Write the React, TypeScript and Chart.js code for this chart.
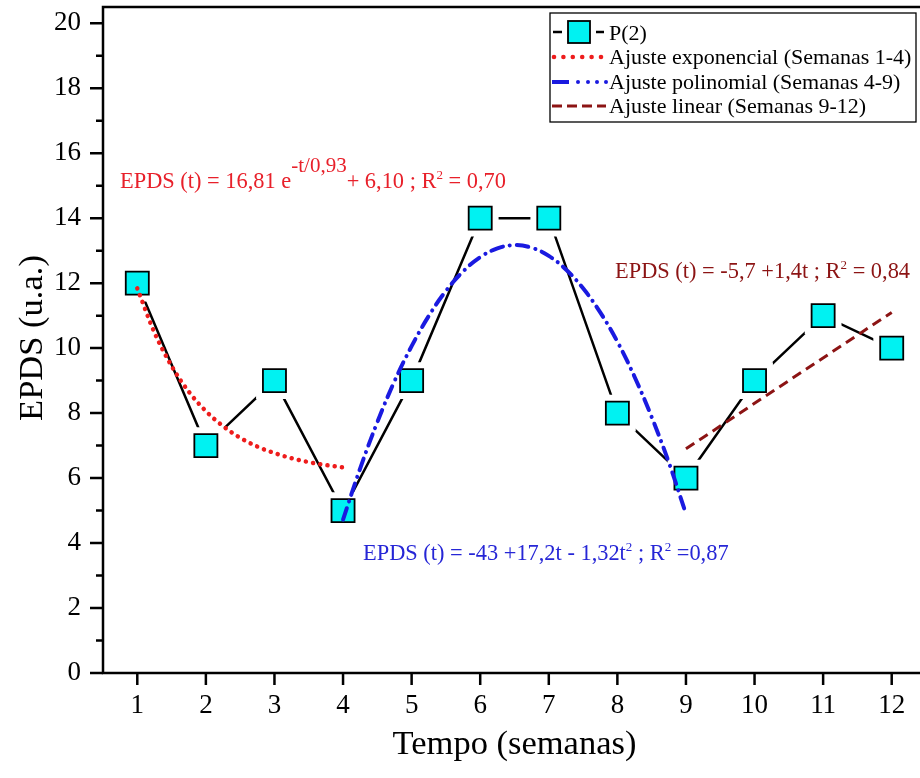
import React, { useEffect, useRef } from "react";
import { Chart, registerables } from "chart.js";

Chart.register(...registerables);

// ---------- data ----------
const weeks = [1, 2, 3, 4, 5, 6, 7, 8, 9, 10, 11, 12];
const p2Values = [12, 7, 9, 5, 9, 14, 14, 8, 6, 9, 11, 10];

// exponential fit (weeks 1-4)
const expT = [1, 1.25, 1.5, 1.75, 2, 2.25, 2.5, 2.75, 3, 3.25, 3.5, 3.75, 4];
const expValues = [11.84, 10.48, 9.45, 8.66, 8.06, 7.6, 7.24, 6.97, 6.77, 6.61, 6.49, 6.4, 6.33];

// polynomial fit (weeks 4-9)
const polyT = [4, 4.25, 4.5, 4.75, 5, 5.25, 5.5, 5.75, 6, 6.25, 6.5, 6.75, 7, 7.25, 7.5, 7.75, 8, 8.25, 8.5, 8.75, 9];
const polyValues = [4.72, 6.3, 7.72, 8.98, 10.06, 10.99, 11.76, 12.36, 12.8, 13.07, 13.17, 13.09, 12.84, 12.42, 11.84, 11.1, 10.2, 9.12, 7.88, 6.48, 4.9];

// linear fit (weeks 9-12)
const linT = [9, 12];
const linValues = [6.9, 11.1];

const yTickValues = [0, 2, 4, 6, 8, 10, 12, 14, 16, 18, 20];
const yMinorValues = [1, 3, 5, 7, 9, 11, 13, 15, 17, 19];

const xTitle = "Tempo (semanas)";
const yTitle = "EPDS (u.a.)";
const legendLabels = [
  "P(2)",
  "Ajuste exponencial (Semanas 1-4)",
  "Ajuste polinomial (Semanas 4-9)",
  "Ajuste linear (Semanas 9-12)",
];

type Part = { text: string; sup?: boolean; small?: boolean };
const eqExp: Part[] = [
  { text: "EPDS (t) = 16,81 e" },
  { text: "-t/0,93", sup: true },
  { text: "+ 6,10 ; R" },
  { text: "2", small: true },
  { text: " = 0,70" },
];
const eqPoly: Part[] = [
  { text: "EPDS (t) = -43 +17,2t - 1,32t" },
  { text: "2", small: true },
  { text: " ; R" },
  { text: "2", small: true },
  { text: " =0,87" },
];
const eqLin: Part[] = [
  { text: "EPDS (t) = -5,7 +1,4t ; R" },
  { text: "2", small: true },
  { text: " = 0,84" },
];

const FONT = '"Liberation Serif", "Times New Roman", Times, serif';
const RED = "#ee1c1c";
const BLUE = "#1a1ae0";
const DARKRED = "#8c1414";
const CYAN = "#00f2f2";

function toXY(xs: number[], ys: number[]) {
  return xs.map((x, i) => ({ x, y: ys[i] }));
}

function drawRich(ctx: CanvasRenderingContext2D, x: number, y: number, parts: Part[], color: string) {
  ctx.fillStyle = color;
  ctx.textAlign = "left";
  ctx.textBaseline = "alphabetic";
  let cx = x;
  for (const p of parts) {
    let size = 22.4;
    let rise = 0;
    if (p.sup) {
      size = 21;
      rise = 16;
    } else if (p.small) {
      size = 13;
      rise = 9;
    }
    ctx.font = `${size}px ${FONT}`;
    ctx.fillText(p.text, cx, y - rise);
    cx += ctx.measureText(p.text).width;
  }
}

const overlayPlugin = {
  id: "overlay",
  afterDraw(chart: any) {
    const ctx: CanvasRenderingContext2D = chart.ctx;
    const { left, top, right, bottom } = chart.chartArea;
    const xs = chart.scales.x;
    const ys = chart.scales.y;
    ctx.save();

    // frame
    ctx.strokeStyle = "#000";
    ctx.lineWidth = 2.5;
    ctx.strokeRect(left, top, right - left, bottom - top);

    // tick marks
    ctx.beginPath();
    yTickValues.forEach((v) => {
      const p = ys.getPixelForValue(v);
      ctx.moveTo(left - 13, p);
      ctx.lineTo(left, p);
    });
    yMinorValues.forEach((v) => {
      const p = ys.getPixelForValue(v);
      ctx.moveTo(left - 7, p);
      ctx.lineTo(left, p);
    });
    weeks.forEach((v) => {
      const p = xs.getPixelForValue(v);
      ctx.moveTo(p, bottom);
      ctx.lineTo(p, bottom + 12);
    });
    ctx.stroke();

    // axis titles
    ctx.fillStyle = "#000";
    ctx.font = `34.5px ${FONT}`;
    ctx.textAlign = "center";
    ctx.textBaseline = "alphabetic";
    ctx.fillText(xTitle, (left + right) / 2, 754);
    ctx.save();
    ctx.translate(42, 338);
    ctx.rotate(-Math.PI / 2);
    ctx.fillText(yTitle, 0, 0);
    ctx.restore();

    // legend box
    const bx = 550, by = 13, bw = 366, bh = 109;
    ctx.fillStyle = "#fff";
    ctx.fillRect(bx, by, bw, bh);
    ctx.lineWidth = 1.3;
    ctx.strokeStyle = "#000";
    ctx.strokeRect(bx, by, bw, bh);

    const baselines = [40, 64, 89, 113];
    const textX = 609;
    ctx.font = `22px ${FONT}`;
    ctx.textAlign = "left";
    ctx.textBaseline = "alphabetic";
    ctx.fillStyle = "#000";
    legendLabels.forEach((lab, i) => ctx.fillText(lab, textX, baselines[i]));

    // row 0: line + square
    let cy = baselines[0] - 8;
    ctx.strokeStyle = "#000";
    ctx.lineWidth = 2.5;
    ctx.beginPath();
    ctx.moveTo(553, cy);
    ctx.lineTo(562, cy);
    ctx.moveTo(596, cy);
    ctx.lineTo(604, cy);
    ctx.stroke();
    ctx.fillStyle = CYAN;
    ctx.fillRect(568, cy - 11, 22, 22);
    ctx.lineWidth = 1.8;
    ctx.strokeRect(568, cy - 11, 22, 22);

    // row 1: red dots
    cy = baselines[1] - 7;
    ctx.fillStyle = RED;
    for (let x = 554; x <= 602; x += 9.4) {
      ctx.beginPath();
      ctx.arc(x, cy, 2.3, 0, Math.PI * 2);
      ctx.fill();
    }

    // row 2: blue dash + dots
    cy = baselines[2] - 7;
    ctx.strokeStyle = BLUE;
    ctx.lineWidth = 4;
    ctx.beginPath();
    ctx.moveTo(552, cy);
    ctx.lineTo(569, cy);
    ctx.stroke();
    ctx.fillStyle = BLUE;
    [578, 588, 597, 606].forEach((x) => {
      ctx.beginPath();
      ctx.arc(x, cy, 2, 0, Math.PI * 2);
      ctx.fill();
    });

    // row 3: dark red dashes
    cy = baselines[3] - 7;
    ctx.strokeStyle = DARKRED;
    ctx.lineWidth = 3;
    ctx.setLineDash([10, 5]);
    ctx.beginPath();
    ctx.moveTo(552, cy);
    ctx.lineTo(606, cy);
    ctx.stroke();
    ctx.setLineDash([]);

    // equations
    drawRich(ctx, 120, 188, eqExp, "#e8202a");
    drawRich(ctx, 363, 560, eqPoly, "#2626d6");
    drawRich(ctx, 615, 278, eqLin, DARKRED);

    ctx.restore();
  },
};

export default function App() {
  const ref = useRef<HTMLCanvasElement>(null);

  useEffect(() => {
    const canvas = ref.current;
    if (!canvas) return;
    const p2 = toXY(weeks, p2Values);
    const chart = new Chart(canvas, {
      type: "line",
      data: {
        datasets: [
          {
            label: "P(2) line",
            data: p2,
            borderColor: "#000",
            borderWidth: 2.5,
            pointRadius: 0,
            tension: 0,
            order: 5,
          },
          {
            label: "halo",
            data: p2,
            showLine: false,
            pointStyle: "rect",
            pointRadius: 26,
            pointBackgroundColor: "#fff",
            pointBorderColor: "#fff",
            pointBorderWidth: 0,
            order: 4,
          },
          {
            label: legendLabels[0],
            data: p2,
            showLine: false,
            pointStyle: "rect",
            pointRadius: 16.3,
            pointBackgroundColor: CYAN,
            pointBorderColor: "#000",
            pointBorderWidth: 1.8,
            order: 3,
          },
          {
            label: legendLabels[1],
            data: toXY(expT, expValues),
            borderColor: RED,
            borderWidth: 4.5,
            borderDash: [0.1, 7.2],
            borderCapStyle: "round",
            pointRadius: 0,
            cubicInterpolationMode: "monotone",
            order: 2,
          },
          {
            label: legendLabels[2],
            data: toXY(polyT, polyValues),
            borderColor: BLUE,
            borderWidth: 4,
            borderDash: [12, 7, 0.1, 7],
            borderCapStyle: "round",
            pointRadius: 0,
            tension: 0.4,
            order: 1,
          },
          {
            label: legendLabels[3],
            data: toXY(linT, linValues),
            borderColor: DARKRED,
            borderWidth: 3,
            borderDash: [10, 6],
            pointRadius: 0,
            order: 0,
          },
        ] as any,
      },
      options: {
        animation: false,
        responsive: false,
        devicePixelRatio: 1,
        events: [],
        layout: { autoPadding: false, padding: { top: 7, right: 4, left: 0, bottom: 0 } },
        plugins: {
          legend: { display: false },
          tooltip: { enabled: false },
        },
        scales: {
          x: {
            type: "linear",
            min: 0.5,
            max: 12.5,
            grid: { display: false, drawTicks: false },
            border: { display: false },
            ticks: {
              color: "#000",
              font: { family: FONT, size: 27 },
              padding: 17,
              autoSkip: false,
              maxRotation: 0,
              callback: (v: any) => String(v),
            },
            afterBuildTicks: (s: any) => {
              s.ticks = weeks.map((v) => ({ value: v }));
            },
            afterFit: (s: any) => {
              s.height = 105;
              s.paddingLeft = 0;
              s.paddingRight = 0;
              s.paddingTop = 0;
              s.paddingBottom = 0;
            },
          },
          y: {
            min: 0,
            max: 20.5,
            grid: { display: false, drawTicks: false },
            border: { display: false },
            ticks: {
              color: "#000",
              font: { family: FONT, size: 27 },
              padding: 22,
              autoSkip: false,
              callback: (v: any) => String(v),
            },
            afterBuildTicks: (s: any) => {
              s.ticks = yTickValues.map((v) => ({ value: v }));
            },
            afterFit: (s: any) => {
              s.width = 103;
              s.paddingLeft = 0;
              s.paddingRight = 0;
              s.paddingTop = 0;
              s.paddingBottom = 0;
            },
          },
        },
      } as any,
      plugins: [overlayPlugin],
    });
    return () => chart.destroy();
  }, []);

  return (
    <div
      style={{
        position: "absolute",
        left: 0,
        top: 0,
        width: 920,
        height: 778,
        overflow: "hidden",
        background: "#fff",
      }}
    >
      <canvas ref={ref} width={930} height={778} style={{ display: "block" }} />
    </div>
  );
}
